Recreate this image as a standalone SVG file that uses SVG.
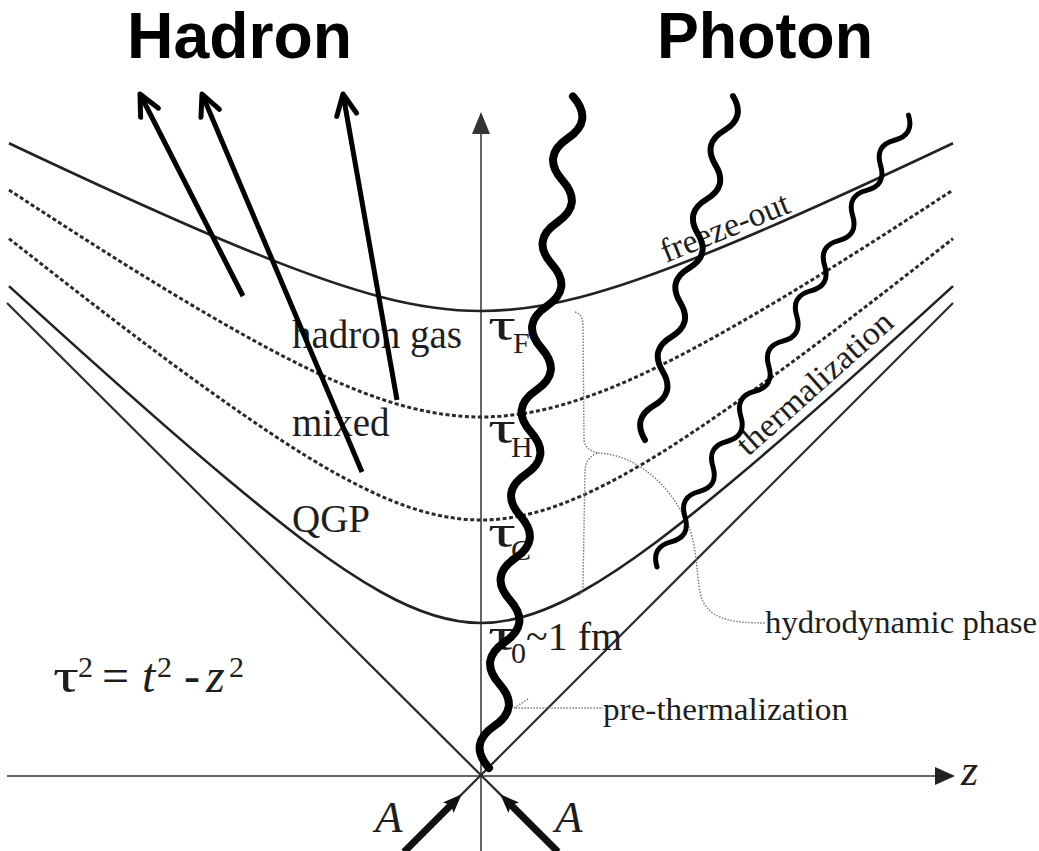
<svg xmlns="http://www.w3.org/2000/svg" width="1039" height="851" viewBox="0 0 1039 851">
<style>
.axis{stroke:#666;stroke-width:2;fill:none}
.cone{stroke:#2a2a2a;stroke-width:2.2;fill:none}
.solid{stroke:#222;stroke-width:2.6;fill:none}
.dash{stroke:#2a2a2a;stroke-width:3;fill:none;stroke-dasharray:4 2.5}
.dot{stroke:#777;stroke-width:1.4;fill:none;stroke-dasharray:1.5 1.5}
.lab{font-family:"Liberation Serif","Times New Roman",serif;fill:#1e1e1e}
.title{font-family:"Liberation Sans",Arial,sans-serif;font-weight:700;font-size:64px;fill:#000}
.had{stroke:#000;stroke-width:5;fill:none;marker-end:url(#openV)}
.beam{stroke:#111;stroke-width:7;fill:none;marker-end:url(#solidA)}
.wave{stroke:#000;fill:none;stroke-linecap:round;stroke-linejoin:round}
</style>
<defs>
<marker id="openV" markerUnits="userSpaceOnUse" markerWidth="40" markerHeight="40" viewBox="-30 -20 40 40" refX="0" refY="0" orient="auto">
<path d="M-21,-10 L0,0 L-21,10" fill="none" stroke="#000" stroke-width="5" stroke-linecap="round" stroke-linejoin="round"/>
</marker>
<marker id="solidA" markerUnits="userSpaceOnUse" markerWidth="40" markerHeight="40" viewBox="-20 -20 40 40" refX="0" refY="0" orient="auto">
<path d="M13,0 L-6,-7.5 L-2,0 L-6,7.5 Z" fill="#111"/>
</marker>
</defs>
<rect width="1039" height="851" fill="#fff"/>

<g id="axes">
<line class="axis" x1="481" y1="851" x2="481" y2="130"/>
<polygon points="481,112 472,134 490,134" fill="#333"/>
<line class="axis" x1="7" y1="776" x2="938" y2="776"/>
<polygon points="955,776 935,767 935,785" fill="#222"/>
<text class="lab" x="961" y="785" font-size="44" font-style="italic">z</text>
</g>

<g id="light-cone">
<line class="cone" x1="7" y1="303" x2="557" y2="851"/>
<line class="cone" x1="953" y1="303" x2="405" y2="851"/>
</g>

<g id="curves">
<path id="freeze-out" class="solid" d="M 9,143.2 C 83,178.2 157,212.6 231,243.5 C 281,264.4 331,283.95 381,296.96 C 414.33,305.64 447.67,311 481,311 C 514.33,311 547.67,305.64 581,296.96 C 631,283.95 681,264.4 731,243.5 C 805,212.6 879,178.2 953,143.2"/>
<path id="tauH" class="dash" d="M 9,190 C 83,238.34 157,285.87 231,327.8 C 281,356.13 331,382.1 381,399 C 414.33,410.27 447.67,417 481,417 C 514.33,417 547.67,410.27 581,399 C 631,382.1 681,356.13 731,327.8 C 805,285.87 879,238.34 953,190"/>
<path id="tauC" class="dash" d="M 9,238.6 C 83,296.8 157,354.27 231,406.1 C 281,441.12 331,474 381,496.1 C 414.33,510.83 447.67,520 481,520 C 514.33,520 547.67,510.83 581,496.1 C 631,474 681,441.12 731,406.1 C 805,354.27 879,296.8 953,238.6"/>
<path id="tau0" class="solid" d="M 9,286.1 C 83,353.62 157,420.59 231,482.25 C 281,523.92 331,563.97 381,592 C 414.33,610.69 447.67,623 481,623 C 514.33,623 547.67,610.69 581,592 C 631,563.97 681,523.92 731,482.25 C 805,420.59 879,353.62 953,286.1"/>
</g>

<g id="pointers">
<path class="dot" d="M 575,312 Q 583,314 583,325 L 584,440 Q 585,450 598,453 Q 586,457 585,470 L 583,585 Q 583,594 577,596"/>
<path class="dot" d="M 598,453 C 640,455 675,490 690,530 C 700,560 695,590 705,605 C 715,620 735,623 765,623"/>
<path class="dot" d="M 528,699 L 514,708 L 603,708"/>
</g>

<g id="labels">
<text class="lab" x="292" y="348" font-size="39">hadron gas</text>
<text class="lab" x="292" y="436" font-size="39">mixed</text>
<text class="lab" x="292" y="532" font-size="39">QGP</text>
<text class="lab" y="340" font-size="46"><tspan x="488" textLength="28" lengthAdjust="spacingAndGlyphs">τ</tspan><tspan x="513" font-size="30" dy="13">F</tspan></text>
<text class="lab" y="443" font-size="46"><tspan x="488" textLength="28" lengthAdjust="spacingAndGlyphs">τ</tspan><tspan x="511" font-size="30" dy="14">H</tspan></text>
<text class="lab" y="547" font-size="46"><tspan x="488" textLength="28" lengthAdjust="spacingAndGlyphs">τ</tspan><tspan x="511" font-size="30" dy="13">C</tspan></text>
<text class="lab" y="650" font-size="46"><tspan x="488" textLength="28" lengthAdjust="spacingAndGlyphs">τ</tspan><tspan x="511" font-size="30" dy="13">0</tspan><tspan font-size="40" dy="-13" x="526">~1 fm</tspan></text>
<text class="lab" y="692" font-size="48"><tspan x="53" textLength="26" lengthAdjust="spacingAndGlyphs">τ</tspan><tspan x="78" y="677" font-size="30">2</tspan><tspan x="102" y="692">=</tspan><tspan x="142" font-style="italic">t</tspan><tspan x="157" y="677" font-size="30">2</tspan><tspan x="184" y="692">-</tspan><tspan x="206" font-style="italic">z</tspan><tspan x="229" y="677" font-size="30">2</tspan></text>
<text class="lab" transform="translate(666,263) rotate(-22)" font-size="34" textLength="136" lengthAdjust="spacingAndGlyphs">freeze-out</text>
<text class="lab" transform="translate(748,457) rotate(-41.8)" font-size="33" textLength="198" lengthAdjust="spacingAndGlyphs">thermalization</text>
<text class="lab" x="765" y="633" font-size="32" textLength="272" lengthAdjust="spacingAndGlyphs">hydrodynamic phase</text>
<text class="lab" x="603" y="720" font-size="32" textLength="245" lengthAdjust="spacingAndGlyphs">pre-thermalization</text>
<text class="lab" x="375" y="832" font-size="45" font-style="italic">A</text>
<text class="lab" x="555" y="832" font-size="45" font-style="italic">A</text>
</g>

<g id="titles">
<text class="title" x="127" y="58" textLength="225" lengthAdjust="spacingAndGlyphs">Hadron</text>
<text class="title" x="657" y="58" textLength="216" lengthAdjust="spacingAndGlyphs">Photon</text>
</g>

<g id="beams">
<line class="beam" x1="404" y1="852" x2="452.5" y2="803.5"/>
<line class="beam" x1="558" y1="852" x2="509.5" y2="803.5"/>
</g>

<g id="hadrons">
<line class="had" x1="243" y1="296" x2="140" y2="94"/>
<line class="had" x1="362" y1="472" x2="202" y2="94"/>
<line class="had" x1="397" y1="400" x2="343" y2="94"/>
</g>

<g id="photons">
<path id="photon1" class="wave" stroke-width="8" transform="translate(489,768) rotate(7.125)" d="M0,0 q-24,-21.15 0,-42.3 t0,-42.3 t0,-42.3 t0,-42.3 t0,-42.3 t0,-42.3 t0,-42.3 t0,-42.3 t0,-42.3 t0,-42.3 t0,-42.3 t0,-42.3 t0,-42.3 t0,-42.3 t0,-42.3 t0,-42.3"/>
<path id="photon2" class="wave" stroke-width="6" transform="translate(645,440) rotate(14.35)" d="M0,0 q-18,-17.75 0,-35.5 t0,-35.5 t0,-35.5 t0,-35.5 t0,-35.5 t0,-35.5 t0,-35.5 t0,-35.5 t0,-35.5 t0,-35.5"/>
<path id="photon3" class="wave" stroke-width="5" transform="translate(657,567) rotate(29.1)" d="M0,0 q-15,-14.37 0,-28.73 t0,-28.73 t0,-28.73 t0,-28.73 t0,-28.73 t0,-28.73 t0,-28.73 t0,-28.73 t0,-28.73 t0,-28.73 t0,-28.73 t0,-28.73 t0,-28.73 t0,-28.73 t0,-28.73 t0,-28.73 t0,-28.73 t0,-28.73"/>
</g>
</svg>
